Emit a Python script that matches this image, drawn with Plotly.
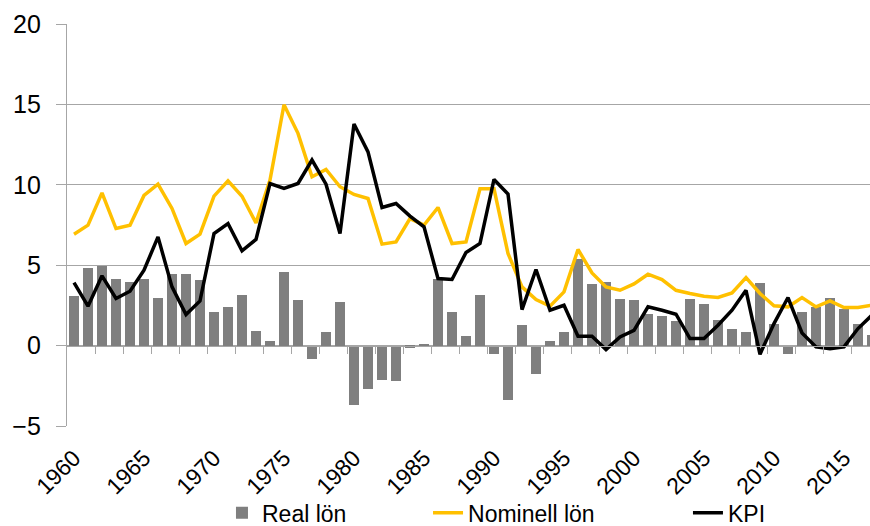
import plotly.graph_objects as go

years = list(range(1960, 2018))
real_lon = [3.07, 4.81, 4.94, 4.17, 3.94, 4.17, 2.99, 4.44, 4.44, 4.11,
            2.12, 2.41, 3.13, 0.91, 0.27, 4.59, 2.82, -0.83, 0.83, 2.74,
            -3.71, -2.68, -2.12, -2.20, -0.12, 0.12, 4.17, 2.12, 0.58, 3.13,
            -0.52, -3.40, 1.31, -1.78, 0.27, 0.83, 5.37, 3.86, 3.94, 2.90,
            2.82, 1.95, 1.87, 1.54, 2.90, 2.61, 1.62, 1.06, 0.83, 3.92,
            1.37, -0.50, 2.12, 2.41, 2.99, 2.28, 1.37, 0.64]
nominell_lon = [6.93, 7.49, 9.50, 7.28, 7.49, 9.34, 10.04, 8.53, 6.35, 6.93,
                9.30, 10.25, 9.29, 7.63, 10.30, 14.98, 13.20, 10.50, 10.95, 9.88,
                9.40, 9.15, 6.31, 6.45, 7.90, 7.49, 8.59, 6.35, 6.45, 9.75,
                9.75, 5.73, 3.65, 2.86, 2.45, 3.34, 5.98, 4.52, 3.65, 3.44,
                3.84, 4.44, 4.11, 3.44, 3.24, 3.07, 2.99, 3.28, 4.23, 3.24,
                2.48, 2.41, 2.99, 2.41, 2.78, 2.37, 2.37, 2.51]
kpi = [3.92, 2.45, 4.34, 2.93, 3.38, 4.69, 6.76, 3.65, 1.93, 2.78,
       6.97, 7.59, 5.89, 6.60, 10.08, 9.77, 10.08, 11.54, 10.04, 6.97,
       13.78, 12.05, 8.59, 8.84, 8.05, 7.39, 4.17, 4.11, 5.79, 6.35,
       10.33, 9.42, 2.24, 4.73, 2.20, 2.51, 0.58, 0.58, -0.25, 0.54,
       0.95, 2.41, 2.20, 1.95, 0.44, 0.44, 1.27, 2.20, 3.44, -0.54,
       1.37, 2.99, 0.79, -0.08, -0.19, -0.08, 1.06, 1.90]
label_years = [1960, 1965, 1970, 1975, 1980, 1985, 1990, 1995, 2000, 2005, 2010, 2015]
y_ticks = [-5, 0, 5, 10, 15, 20]

GRID = "#a6a6a6"
FONT = "Liberation Sans, Arial, sans-serif"

fig = go.Figure()
fig.add_trace(go.Bar(x=years, y=real_lon, name="Real lön", marker_color="#7f7f7f",
                     marker_line_width=0, width=0.66, legend="legend"))
fig.add_trace(go.Scatter(x=years, y=nominell_lon, name="Nominell lön", mode="lines",
                         line=dict(color="#ffc000", width=3.5), xaxis="x2", legend="legend2"))
fig.add_trace(go.Scatter(x=years, y=kpi, name="KPI", mode="lines",
                         line=dict(color="#000000", width=3.5), xaxis="x2", legend="legend3"))

x_range = [1959.5, 1959.5 + 803 / 14]
minor_ticks = [y + 1.5 for y in range(1960, 2017, 2)]

leg_common = dict(orientation="h", xanchor="left", y=-0.216, yanchor="middle",
                  font=dict(size=23, family=FONT), bgcolor="rgba(0,0,0,0)",
                  borderwidth=0)

fig.update_layout(
    width=870, height=526,
    margin=dict(l=67, r=0, t=24, b=100, autoexpand=False),
    paper_bgcolor="white", plot_bgcolor="white",
    font=dict(family=FONT, color="#000000"),
    showlegend=True,
    legend=dict(x=0.193, **leg_common),
    legend2=dict(x=0.4496, **leg_common),
    legend3=dict(x=0.7733, **leg_common),
    bargap=0,
    xaxis=dict(range=x_range, tickvals=label_years, ticktext=[str(v) for v in label_years],
               tickangle=-45, tickfont=dict(size=23), showgrid=False, zeroline=False,
               showline=False, ticks="", ticklabelstandoff=13, automargin=False),
    xaxis2=dict(matches="x", overlaying="x", anchor="free", position=0.2,
                showline=True, linecolor=GRID, linewidth=1.3, ticks="outside",
                tickvals=minor_ticks, ticklen=7, tickcolor=GRID, tickwidth=1.3,
                showticklabels=False, showgrid=False, zeroline=False, automargin=False),
    yaxis=dict(range=[-5, 20], tickvals=y_ticks, showgrid=True, gridcolor=GRID,
               gridwidth=1.3, zeroline=False, showline=True, linecolor=GRID,
               linewidth=1.3, ticks="outside", ticklen=10, tickcolor=GRID,
               tickwidth=1.3, tickfont=dict(size=25), ticklabelstandoff=10,
               automargin=False),
)

fig.write_html("out.html", config={"displayModeBar": False},
               post_script="document.body.style.margin='0';")
